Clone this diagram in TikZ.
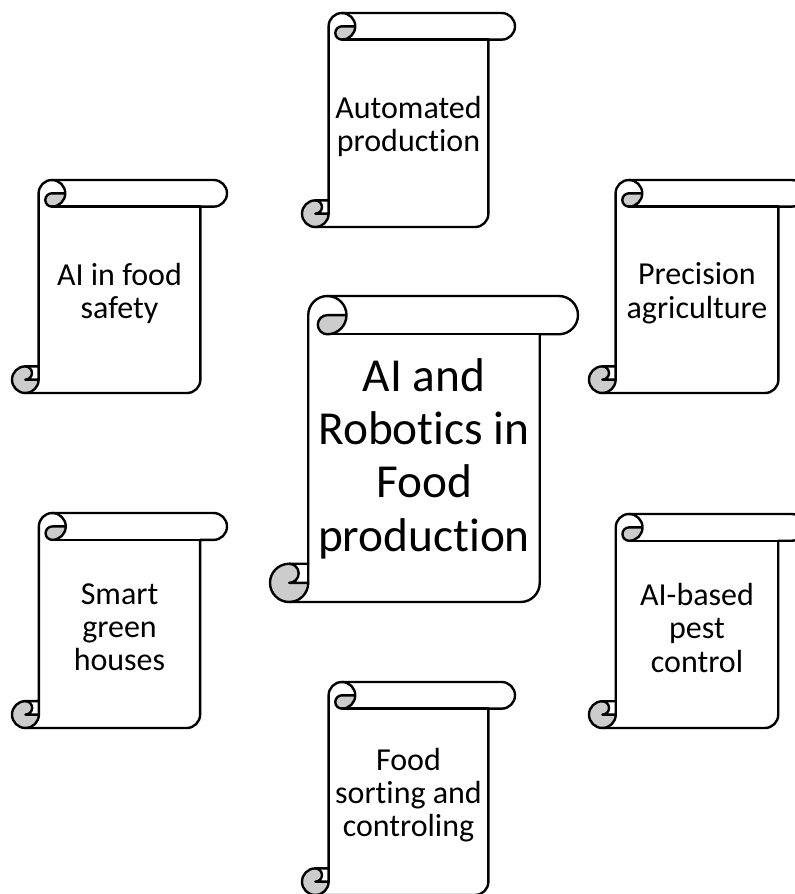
\documentclass[tikz,border=0pt]{standalone}
\usepackage{fontspec}
\setmainfont{Carlito}[Ligatures={NoCommon}]
\begin{document}
\begin{tikzpicture}[x=0.75pt,y=-0.75pt,
  scrollline/.style={draw=black,line width=1.8pt,line join=round,line cap=round},
  scrollshade/.style={fill=black!20},
  smalltext/.style={font=\fontsize{24}{25}\selectfont,align=center,inner sep=0pt},
  bigtext/.style={font=\fontsize{35.5}{40}\selectfont,align=center,inner sep=0pt}]

% \drawscroll{node name}{left}{top}{width}{height}{text style}{text}
\newcommand{\drawscroll}[7]{%
  \begin{scope}[shift={(#2,#3)}]
    \pgfmathsetmacro{\skW}{#4}
    \pgfmathsetmacro{\skH}{#5}
    \pgfmathsetmacro{\skCh}{min(#4,#5)*0.125}
    \pgfmathsetmacro{\skChh}{\skCh/2}
    \pgfmathsetmacro{\skChq}{\skCh/4}
    % paper body with the top roll
    \path[fill=white] (\skCh,\skH-\skCh) -- (\skCh,\skChh)
      arc[start angle=180,delta angle=90,radius=\skChh]
      -- (\skW-\skChh,0) arc[start angle=270,delta angle=180,radius=\skChh]
      -- (\skW-\skCh,\skCh) -- (\skW-\skCh,\skH-\skChh)
      arc[start angle=0,delta angle=90,radius=\skChh]
      -- (\skChh,\skH) arc[start angle=90,delta angle=180,radius=\skChh] -- cycle;
    \path[fill=white] (\skCh+\skChh,\skChh) circle[radius=\skChh];
    % shaded curls
    \path[scrollshade] (2*\skCh,\skChh)
      arc[start angle=0,delta angle=90,radius=\skChh]
      arc[start angle=90,delta angle=180,radius=\skChq] -- cycle;
    \path[scrollshade] (\skCh,\skH-\skChh)
      arc[start angle=0,delta angle=270,radius=\skChh]
      arc[start angle=270,delta angle=180,radius=\skChq] -- cycle;
    % outlines
    \path[scrollline] (\skCh,\skH-\skCh) -- (\skCh,\skChh)
      arc[start angle=180,delta angle=90,radius=\skChh]
      -- (\skW-\skChh,0) arc[start angle=270,delta angle=180,radius=\skChh]
      -- (\skW-\skCh,\skCh) -- (\skW-\skCh,\skH-\skChh)
      arc[start angle=0,delta angle=90,radius=\skChh]
      -- (\skChh,\skH) arc[start angle=90,delta angle=180,radius=\skChh] -- cycle;
    \path[scrollline] (\skCh+\skChh,0)
      arc[start angle=270,delta angle=180,radius=\skChh]
      arc[start angle=90,delta angle=180,radius=\skChq] -- (2*\skCh,\skChh);
    \path[scrollline] (\skW-\skCh,\skCh) -- (\skCh+\skChh,\skCh);
    \path[scrollline] (\skChh,\skH-\skCh)
      arc[start angle=270,delta angle=180,radius=\skChq] -- (\skCh,\skH-\skChh);
    \path[scrollline] (\skChh,\skH)
      arc[start angle=90,delta angle=-90,radius=\skChh] -- (\skCh,\skH-\skCh);
    % caption
    \node[#6] (#1) at (\skW/2,{(\skCh+\skH-\skChh)/2}) {#7};
  \end{scope}}

\useasboundingbox (0,0) rectangle (795,894);
\clip (0,0) rectangle (795,894);

\drawscroll{automated}{302}{13}{213}{214}{smalltext}{Automated\\production}
\drawscroll{safety}{12}{180}{215}{213}{smalltext}{AI in food\\safety}
\drawscroll{precision}{589}{180}{216}{213}{smalltext}{Precision\\agriculture}
\drawscroll{core}{270}{296}{308}{306}{bigtext}{AI and\\Robotics in\\Food\\production}
\drawscroll{greenhouses}{12}{513}{215}{215}{smalltext}{Smart\\green\\houses}
\drawscroll{pest}{589}{514}{216}{214}{smalltext}{AI-based\\pest\\control}
\drawscroll{sorting}{302}{682}{213}{213}{smalltext}{Food\\sorting and\\controling}
\end{tikzpicture}
\end{document}
